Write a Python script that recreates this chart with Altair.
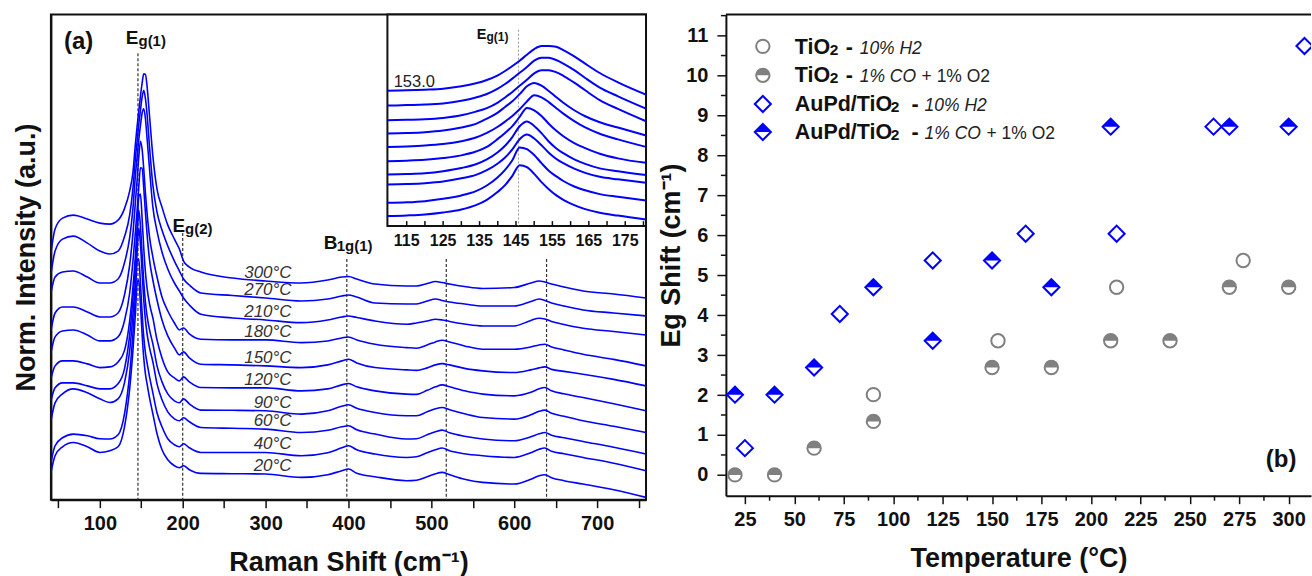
import altair as alt
import pandas as pd

FONT = "Liberation Sans"
BLUE = "#0000ff"
GREY = "#808080"
INK = "#111111"

# ---------------------------------------------------------------------------
# (a) Raman spectra, stacked by temperature (offset intensities, a.u.)
# ---------------------------------------------------------------------------
temps = ["300°C", "270°C", "210°C", "180°C", "150°C",
         "120°C", "90°C", "60°C", "40°C", "20°C"]

raman_shift = [41, 46, 55, 68, 85, 100, 112, 122, 130, 136, 140, 143, 145, 147,
               149, 151, 153, 155, 157, 160, 164, 169, 175, 182, 190, 196, 201,
               208, 222, 260, 300, 343, 375, 392, 400, 410, 432, 470, 482, 495,
               505, 513, 522, 540, 562, 600, 620, 630, 637, 645, 660, 683, 720, 759]

i300 = [247, 271, 282, 285, 281, 277, 276, 280, 292, 309, 328, 357, 374, 389, 404,
        417, 426.5, 426, 414, 384, 344, 311, 293, 275, 261, 251, 239, 233, 228, 222,
        219, 217, 220, 223, 223.5, 221, 216, 214, 214, 216.5, 218.5, 217.5, 216,
        213.5, 211.5, 212.5, 217, 219, 218, 216, 213, 209, 206, 202]
i270 = [226, 249, 261, 264, 257, 249, 246, 249, 264, 285, 312, 343, 359, 376, 390,
        403, 410, 402, 386, 353, 315, 288, 270, 254, 239, 229, 221, 215, 207, 204.5,
        202, 199, 201, 204, 205, 203, 197, 196, 196, 199, 201, 199.5, 198, 196, 194,
        194, 198.5, 201, 199.5, 197, 194, 190, 187, 184]
i210 = [207, 223, 228, 229, 223, 217, 217, 221, 238, 262.5, 292, 325.5, 343, 360.5,
        374.5, 387, 391.5, 382, 362, 331, 293, 269, 248, 231, 217, 209, 202, 195,
        185.7, 182, 180, 177.3, 180, 183, 184, 182.5, 179, 175.7, 177, 179, 180.7,
        180, 178.5, 176, 174, 174, 179.5, 181.7, 181, 178.5, 175.5, 171.7, 168.5, 165]
i180 = [169, 187, 193, 193, 188, 183, 183, 187, 206, 235, 267, 299, 320, 343, 359,
        351, 331, 307, 287, 263, 243, 223, 203, 189, 177, 170, 172, 166, 160.7, 160,
        160, 157.3, 159, 162, 163, 160, 155.7, 152.3, 151.7, 155, 158, 159.7, 158,
        154, 150.7, 150.7, 153, 155, 155.7, 153, 150, 145.7, 140.5, 134]
i150 = [147, 163, 169, 170, 165, 159, 159, 163, 180, 207, 239, 269, 290, 313, 332.5,
        332, 312, 288, 266, 240, 220, 200, 180, 164, 152, 145, 148, 142, 135.7, 135,
        134, 132.3, 135, 139, 140.7, 137, 132.3, 130, 129.5, 132, 135, 136.3, 135,
        131.5, 129, 127.3, 130, 132, 133, 130.5, 128.5, 125.7, 120.5, 114]
i120 = [121, 134, 139, 139, 136, 132.3, 133, 138, 150, 179, 213, 245, 272, 303, 306,
        282, 252, 228, 212, 196, 182, 160, 142, 128, 122, 119, 123, 118, 112.3, 112,
        112, 109, 111, 115, 116.3, 113, 109, 105.7, 105.5, 109.5, 113, 115, 113, 109,
        105.7, 104, 107.5, 111, 112.3, 109, 106, 102.3, 96, 89]
i90 = [99, 112, 117, 117, 114, 111, 111, 116, 132, 165, 202, 236, 265, 290, 274, 246,
       218, 198, 184, 170, 156, 134, 118, 106, 99, 97, 101, 96, 89.7, 89.5, 89, 85.7,
       89, 93.5, 95, 91.5, 87.3, 84, 84, 88, 91, 92.3, 90, 86, 82.3, 80.7, 85, 88.5,
       89.7, 86.5, 83.5, 79, 73.5, 67.3]
i60 = [79, 97, 106, 111, 107, 101, 97.3, 101, 118, 149, 186, 219, 247.5, 272, 256,
       228, 200, 180, 166, 152, 138, 116, 100, 88, 81, 79, 82, 78, 72.3, 71.5, 70.7,
       67.3, 69.5, 73, 74, 70, 65.7, 60.7, 61, 65, 68, 69.7, 67, 63.5, 60.7, 59, 63,
       66, 67.3, 64.5, 62, 58.3, 52.5, 45.7]
i40 = [37, 54, 62, 65.7, 64, 61, 60.7, 65, 87, 126, 167, 206, 238, 241, 217, 187, 163,
       147, 137, 123, 107, 87, 73, 61, 55, 53, 56, 52, 47.3, 47.3, 47.3, 44, 47, 52,
       54, 50, 45.7, 42.3, 43, 47, 50, 51.7, 49, 46, 44, 42.3, 47, 50.5, 51.7, 48.5,
       46, 42.3, 36.5, 29]
i20 = [27, 44, 53, 57.3, 53, 47.3, 49, 53, 74, 111, 150, 187, 217, 220, 196, 166, 142,
       126, 116, 102, 86, 66, 50, 40, 34, 32, 34, 30, 26.3, 26, 25.7, 22.3, 25, 29,
       30.7, 26.5, 23, 19, 19.5, 23, 26, 27.3, 25, 20.5, 17.3, 15.7, 20.5, 24, 25, 22,
       19, 15.7, 10, 2.3]
spectra = [i300, i270, i210, i180, i150, i120, i90, i60, i40, i20]

# Raman band markers (cm-1) and the height where each dashed guide starts
band_pos = [146, 200, 398, 518, 639]
band_top = [447, 267, 241, 241, 241]

# Inset: zoom on the Eg(1) band
inset_shift = [109.7, 115, 120, 125, 130, 134, 137, 140, 142, 144, 146, 148, 150,
               152, 154, 156, 158, 161, 164, 168, 173, 180.7]
j300 = [407, 408, 410, 413, 420, 429, 439, 453, 466, 481, 497, 515, 532, 541, 541,
        539, 529, 510, 488, 460, 432, 395]
j270 = [362, 363.5, 365, 368.5, 376.5, 386.5, 397, 413, 427, 443, 460.5, 478, 497,
        505.5, 505.5, 499, 488.5, 468.5, 445, 416, 390, 353]
j210 = [318, 319.5, 321, 325, 333, 344, 354.5, 371, 386.5, 403, 421.5, 439.5, 459,
        468.5, 468.5, 462.5, 451.5, 431, 408, 378.5, 352, 315]
j180 = [278, 279.5, 282, 287, 296.5, 307, 323, 341, 358, 375, 396.5, 420, 430, 422,
        406, 388, 370.5, 348, 330, 312, 296, 272]
j150 = [238, 239.5, 242, 246.5, 255, 266, 280, 298.5, 314, 331, 351, 374.5, 393, 387,
        372.5, 355, 338, 315.5, 296.5, 277.5, 260.5, 238]
j120 = [195, 196.5, 199, 204.5, 212.5, 224, 238, 262, 280, 300.5, 328, 355, 348, 331,
        307.5, 287, 270, 249.5, 234.5, 217.5, 203.5, 190]
j90 = [155, 156.5, 159, 165, 174.5, 186, 200.5, 222, 241.5, 267.5, 300, 314.5, 301,
       279.5, 254, 234, 219, 200.5, 187, 173.5, 165, 153.5]
j60 = [125, 126.5, 129, 134, 143.5, 154, 168, 188, 206, 230.5, 261, 275, 263, 243,
       220.5, 202.5, 189, 172.5, 160, 148, 140.5, 130]
j40 = [70, 71.5, 75, 82, 92, 105, 122, 147, 169, 198, 236.5, 231.5, 213.5, 189, 166.5,
       150, 135.5, 119, 107.5, 96, 88, 77]
j20 = [30, 32, 35, 41, 50, 63, 79, 103, 123, 151, 183, 177, 157, 132, 111, 93, 79, 63,
       51, 40, 31.5, 20]
inset_spectra = [j300, j270, j210, j180, j150, j120, j90, j60, j40, j20]
inset_ticks = [115, 120, 125, 130, 135, 140, 145, 150, 155, 160, 165, 170, 175, 180]
inset_labels = [115, 125, 135, 145, 155, 165, 175]
inset_peak_label = "153.0"

# ---------------------------------------------------------------------------
# (b) Eg(1) shift versus temperature
# ---------------------------------------------------------------------------
tio2_h2_temp = [90, 153, 213, 277]
tio2_h2_shift = [2.01, 3.36, 4.70, 5.37]
tio2_co_temp = [20, 40, 60, 90, 150, 180, 210, 240, 270, 300]
tio2_co_shift = [0.0, 0.0, 0.67, 1.34, 2.69, 2.69, 3.36, 3.36, 4.70, 4.70]
aupd_h2_temp = [25, 73, 120, 167, 213, 262, 308]
aupd_h2_shift = [0.67, 4.03, 5.37, 6.04, 6.04, 8.72, 10.74]
aupd_co_temp = [20, 40, 60, 90, 120, 150, 180, 210, 270, 300]
aupd_co_shift = [2.01, 2.01, 2.69, 4.70, 3.36, 5.37, 4.70, 8.72, 8.72, 8.72]

# ---------------------------------------------------------------------------
for s in spectra:
    assert len(s) == len(raman_shift)
for s in inset_spectra:
    assert len(s) == len(inset_shift)


def long_table(xs, series):
    rows = []
    for label, values in zip(temps, series):
        for x, v in zip(xs, values):
            rows.append({"raman": x, "intensity": v, "temp": label})
    return pd.DataFrame(rows)


spec_df = long_table(raman_shift, spectra)
inset_df = long_table(inset_shift, inset_spectra)
band_df = pd.DataFrame({"raman": band_pos, "intensity": band_top,
                        "base": [0] * len(band_pos)})

ONE = pd.DataFrame({"k": [0]})


def label(text, x, y, size, weight="normal", style="normal", color=INK,
          align="left", baseline="alphabetic"):
    return alt.Chart(ONE).mark_text(
        text=text, font=FONT, fontSize=size, fontWeight=weight, fontStyle=style,
        color=color, align=align, baseline=baseline,
    ).encode(x=alt.value(x), y=alt.value(y))


AX = dict(domainColor=INK, domainWidth=2, tickColor=INK, tickWidth=1.5,
          labelFont=FONT, labelFontSize=20, labelFontWeight="bold", labelColor=INK,
          titleFont=FONT, titleFontSize=27, titleFontWeight="bold", titleColor=INK,
          grid=False)

# ----- panel (a): main spectra -----
x_main = alt.X("raman:Q",
               scale=alt.Scale(domain=[41, 759], nice=False, zero=False),
               axis=alt.Axis(values=list(range(50, 751, 50)),
                             labelExpr="datum.value % 100 == 0 ? datum.label : ''",
                             tickSize=8, labelPadding=6, titlePadding=16,
                             title="Raman Shift (cm⁻¹)", **AX))
y_main = alt.Y("intensity:Q",
               scale=alt.Scale(domain=[0, 486], nice=False, zero=False),
               axis=alt.Axis(labels=False, ticks=False, titlePadding=10,
                             title="Norm. Intensity (a.u.)", **AX))

bands = alt.Chart(band_df).mark_rule(
    color="#333333", strokeWidth=1.2, strokeDash=[3, 2]
).encode(x=x_main, y=y_main, y2=alt.Y2("base:Q"))

curves = alt.Chart(spec_df).mark_line(
    color=BLUE, strokeWidth=1.6, interpolate="monotone", clip=True
).encode(x=x_main, y=y_main, detail="temp:N")

temp_text = alt.Chart(spec_df).transform_filter(
    alt.datum.raman == 300
).mark_text(
    align="right", baseline="middle", dx=26, dy=-8, font=FONT, fontSize=17,
    fontStyle="italic", color="#333333"
).encode(x=x_main, y=y_main, text="temp:N")

main_layer = alt.layer(
    bands, curves, temp_text,
    label("(a)", 13, 35, 24, weight="bold"),
    label("E", 75, 30, 19, weight="bold"),
    label("g(1)", 87.7, 32, 15, weight="bold"),
    label("E", 121.7, 217.5, 19, weight="bold"),
    label("g(2)", 134.4, 219.5, 15, weight="bold"),
    label("B", 273.3, 235.3, 19, weight="bold"),
    label("1g(1)", 286.3, 237, 15, weight="bold"),
)

# ----- panel (a): inset -----
x_in = alt.X("raman:Q",
             scale=alt.Scale(domain=[109.7, 180.7], range=[337, 596],
                             nice=False, zero=False),
             axis=None)
y_in = alt.Y("intensity:Q",
             scale=alt.Scale(domain=[0, 636], range=[212, 0], nice=False, zero=False),
             axis=None)

inset_box = alt.Chart(pd.DataFrame({"raman": [109.7], "raman_end": [180.7],
                                    "intensity": [0], "top": [636]})).mark_rect(
    fill="white", stroke=INK, strokeWidth=2
).encode(x=x_in, x2=alt.X2("raman_end:Q"), y=y_in, y2=alt.Y2("top:Q"))

inset_guide = alt.Chart(pd.DataFrame({"raman": [145.7], "intensity": [590],
                                      "base": [0]})).mark_rule(
    color="#9a9a9a", strokeWidth=1, strokeDash=[2, 2]
).encode(x=x_in, y=y_in, y2=alt.Y2("base:Q"))

inset_curves = alt.Chart(inset_df).mark_line(
    color=BLUE, strokeWidth=2, interpolate="monotone", clip=True
).encode(x=x_in, y=y_in, detail="temp:N")

inset_tick_marks = alt.Chart(pd.DataFrame({"raman": inset_ticks})).mark_rule(
    color=INK, strokeWidth=1.5
).encode(x=x_in, y=alt.value(212), y2=alt.value(207))

inset_tick_text = alt.Chart(pd.DataFrame({"raman": inset_labels})).mark_text(
    font=FONT, fontSize=16, fontWeight="bold", color=INK, baseline="top"
).encode(x=x_in, y=alt.value(219), text="raman:Q")

inset_layer = alt.layer(inset_box, inset_guide, inset_curves,
                        inset_tick_marks, inset_tick_text)

panel_a = alt.layer(
    main_layer, inset_layer,
    label("E", 426.5, 24.5, 14.5, weight="bold"),
    label("g(1)", 436.2, 26.5, 12, weight="bold"),
    label(inset_peak_label, 343.3, 73, 16.5, color="#222222"),
).resolve_scale(x="independent", y="independent").properties(
    width=596, height=486,
    view=alt.ViewBackground(stroke=INK, strokeWidth=2),
)

# ----- panel (b): Eg shift -----
x_T = alt.X("T:Q", scale=alt.Scale(domain=[15.4, 311.3], nice=False, zero=False),
            axis=alt.Axis(values=list(range(25, 301, 25)), tickSize=8,
                          labelPadding=6, titlePadding=16,
                          title="Temperature (°C)", **AX))
y_S = alt.Y("shift:Q", scale=alt.Scale(domain=[-0.52, 11.53], nice=False, zero=False),
            axis=alt.Axis(values=list(range(0, 12)), tickSize=9, labelPadding=9,
                          titlePadding=0, title="Eg Shift (cm⁻¹)", **AX))

HALF_CIRCLE = "M-1,0A1,1,0,0,1,1,0Z"
HALF_DIAMOND = "M-1,0L0,-1L1,0Z"
CIRCLE_SIZE = 180
DIAMOND_SIZE = 260


def series_df(t, s):
    return pd.DataFrame({"T": t, "shift": s})


def pts(df, **mark):
    return alt.Chart(df).mark_point(clip=True, opacity=1, **mark).encode(x=x_T, y=y_S)


def open_mark(shape, color, size):
    return dict(shape=shape, filled=False, color=color, strokeWidth=2, size=size)


def half_mark(shape, color, size):
    return dict(shape=shape, filled=True, color=color, strokeWidth=0, size=size)


d1 = series_df(tio2_h2_temp, tio2_h2_shift)
d2 = series_df(tio2_co_temp, tio2_co_shift)
d3 = series_df(aupd_h2_temp, aupd_h2_shift)
d4 = series_df(aupd_co_temp, aupd_co_shift)

scatter = [
    pts(d1, **open_mark("circle", GREY, CIRCLE_SIZE)),
    pts(d2, **half_mark(HALF_CIRCLE, GREY, CIRCLE_SIZE)),
    pts(d2, **open_mark("circle", GREY, CIRCLE_SIZE)),
    pts(d3, **open_mark("diamond", BLUE, DIAMOND_SIZE)),
    pts(d4, **half_mark(HALF_DIAMOND, BLUE, DIAMOND_SIZE)),
    pts(d4, **open_mark("diamond", BLUE, DIAMOND_SIZE)),
]

minor_x = alt.Chart(pd.DataFrame({"T": [37.5 + 25 * k for k in range(11)]})).mark_rule(
    color=INK, strokeWidth=1.5
).encode(x=x_T, y=alt.value(482), y2=alt.value(487))
minor_y = alt.Chart(pd.DataFrame({"shift": [0.5 + k for k in range(12)]})).mark_rule(
    color=INK, strokeWidth=1.5
).encode(y=y_S, x=alt.value(0), x2=alt.value(-5))
top_edge = alt.Chart(pd.DataFrame({"shift": [11.53]})).mark_rule(
    color=INK, strokeWidth=2
).encode(y=y_S)


def legend_symbol(x, y, **mark):
    return alt.Chart(ONE).mark_point(opacity=1, **mark).encode(
        x=alt.value(x), y=alt.value(y))


legend_names = [
    [("TiO", "b"), ("2", "s"), ("-", "d"), ("10% H2", "i")],
    [("TiO", "b"), ("2", "s"), ("-", "d"), ("1% CO", "i"), ("+ 1% O2", "n")],
    [("AuPd/TiO", "b"), ("2", "s"), ("-", "d"), ("10% H2", "i")],
    [("AuPd/TiO", "b"), ("2", "s"), ("-", "d"), ("1% CO", "i"), ("+ 1% O2", "n")],
]
legend_x = [
    [69, 104, 120, 134],
    [69, 104, 120, 134, 196],
    [69, 165, 186, 199],
    [69, 165, 186, 199, 261],
]
legend_baselines = [39.3, 68, 97, 124.7]
legend_centres = [32, 61, 89.7, 117.7]
legend_styles = {
    "b": dict(size=21.5, weight="bold"),
    "s": dict(size=15.5, weight="bold"),
    "d": dict(size=21.5, weight="bold"),
    "i": dict(size=17.5, style="italic", color="#222222"),
    "n": dict(size=17.5, color="#222222"),
}

legend_layers = [
    legend_symbol(37, legend_centres[0], **open_mark("circle", GREY, CIRCLE_SIZE)),
    legend_symbol(37, legend_centres[1], **half_mark(HALF_CIRCLE, GREY, CIRCLE_SIZE)),
    legend_symbol(37, legend_centres[1], **open_mark("circle", GREY, CIRCLE_SIZE)),
    legend_symbol(37, legend_centres[2], **open_mark("diamond", BLUE, DIAMOND_SIZE)),
    legend_symbol(37, legend_centres[3], **half_mark(HALF_DIAMOND, BLUE, DIAMOND_SIZE)),
    legend_symbol(37, legend_centres[3], **open_mark("diamond", BLUE, DIAMOND_SIZE)),
]
for parts, xs, base in zip(legend_names, legend_x, legend_baselines):
    for (text, kind), x in zip(parts, xs):
        dy = 1 if kind == "s" else 0
        legend_layers.append(label(text, x, base + dy, **legend_styles[kind]))

panel_b = alt.layer(
    minor_x, minor_y, top_edge, *scatter, *legend_layers,
    label("(b)", 540.7, 453, 24, weight="bold"),
).properties(width=586, height=482)

chart = alt.hconcat(panel_a, panel_b, spacing=80, bounds="flush").properties(
    padding={"left": 12, "top": 12, "right": 0, "bottom": 0}
).configure(font=FONT).configure_view(strokeWidth=0)

chart.save("out.html", embed_options={"renderer": "svg", "actions": False})
